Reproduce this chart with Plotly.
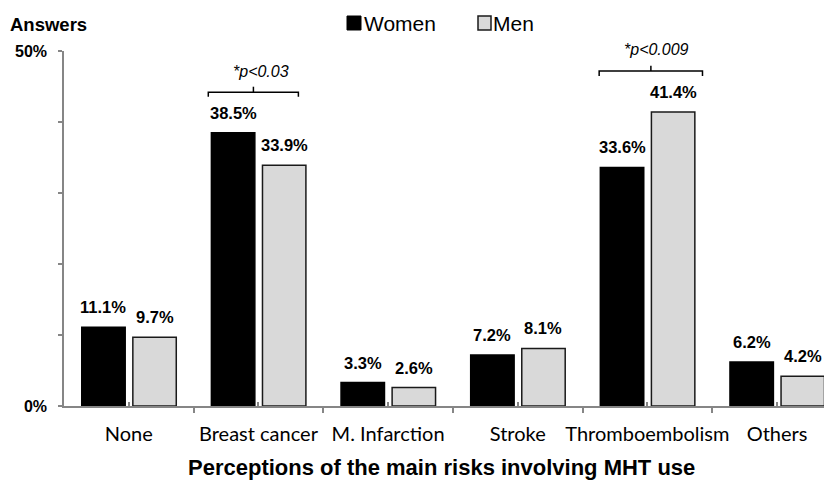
import plotly.graph_objects as go

categories = ["None", "Breast cancer", "M. Infarction", "Stroke", "Thromboembolism", "Others"]
women = [11.1, 38.5, 3.3, 7.2, 33.6, 6.2]
men = [9.7, 33.9, 2.6, 8.1, 41.4, 4.2]
y_ticks = [0, 10, 20, 30, 40, 50]
y_ticktext = ["0%", "", "", "", "", "50%"]
sig_labels = ["*p<0.03", "*p<0.009"]

# page has an 8px body margin; figure is sized so the plot reaches the window edges
BODY = 8
W, H = 832 - BODY, 481 - BODY
ML, MR, MT, MB = 64 - BODY, 0, 51 - BODY, 75
PW, PH = W - ML - MR, H - MT - MB

def px_x(p):  # page pixel -> paper x
    return (p - BODY - ML) / PW

def px_y(p):  # page pixel -> paper y
    return (H - MB - (p - BODY)) / PH

x = list(range(len(categories)))
BW = 0.335
OFF_W, OFF_M = -0.363, 0.031
XMAX = 5.424
YMAX = 50

fig = go.Figure()
fig.add_trace(go.Bar(x=x, y=women, name="Women", width=BW, offset=OFF_W,
                     marker=dict(color="#000000", line=dict(color="#000000", width=1.5)),
                     showlegend=False))
fig.add_trace(go.Bar(x=x, y=men, name="Men", width=BW, offset=OFF_M,
                     marker=dict(color="#d9d9d9", line=dict(color="#1a1a1a", width=1.5)),
                     showlegend=False))

annotations = []
for i, (w, m) in enumerate(zip(women, men)):
    for val, off in ((w, OFF_W), (m, OFF_M)):
        annotations.append(dict(x=i + off + BW / 2, y=val, xref="x", yref="y",
                                text=f"{val}%", showarrow=False, yanchor="middle", yshift=20,
                                font=dict(family="Arial", size=16.5, color="#000000", weight="bold")))

# significance brackets
brackets = [
    dict(x0=0.613, x1=1.308, xc=0.961, y=44.18, ylo=43.56, yhi=44.97, tx=1.02, ty=47.08, text=sig_labels[0]),
    dict(x0=3.628, x1=4.425, xc=4.027, y=47.18, ylo=46.48, yhi=47.93, tx=4.073, ty=50.24, text=sig_labels[1]),
]
shapes = []
for b in brackets:
    shapes.append(dict(type="path",
                       path=f"M {b['x0']},{b['ylo']} L {b['x0']},{b['y']} L {b['x1']},{b['y']} L {b['x1']},{b['ylo']}",
                       xref="x", yref="y", line=dict(color="#000000", width=1.5)))
    shapes.append(dict(type="line", x0=b["xc"], x1=b["xc"], y0=b["y"], y1=b["yhi"],
                       xref="x", yref="y", line=dict(color="#000000", width=1.5)))
    annotations.append(dict(x=(b["tx"] + 0.5) / (XMAX + 0.5), y=b["ty"] / YMAX,
                            xref="paper", yref="paper", text=b["text"], showarrow=False,
                            xanchor="center", yanchor="middle",
                            font=dict(family="Arial", size=16, color="#000000", style="italic")))

# legend (manual)
shapes.append(dict(type="rect", xref="paper", yref="paper", x0=px_x(347), x1=px_x(361),
                   y0=px_y(30), y1=px_y(16), fillcolor="#000000", line=dict(color="#000000", width=1)))
shapes.append(dict(type="rect", xref="paper", yref="paper", x0=px_x(478), x1=px_x(491),
                   y0=px_y(30), y1=px_y(16), fillcolor="#d9d9d9", line=dict(color="#1a1a1a", width=1.5)))
annotations.append(dict(x=px_x(362), y=px_y(23), xref="paper", yref="paper", text="Women",
                        showarrow=False, xanchor="left", yanchor="middle",
                        font=dict(family="Arial", size=21, color="#000000")))
annotations.append(dict(x=px_x(491), y=px_y(23), xref="paper", yref="paper", text="Men",
                        showarrow=False, xanchor="left", yanchor="middle",
                        font=dict(family="Arial", size=21, color="#000000")))

annotations.append(dict(x=px_x(8), y=px_y(24), xref="paper", yref="paper", text="Answers",
                        showarrow=False, xanchor="left", yanchor="middle",
                        font=dict(family="Arial", size=18.5, color="#000000", weight="bold")))
annotations.append(dict(x=px_x(441), y=px_y(481), xref="paper", yref="paper",
                        text="Perceptions of the main risks involving MHT use",
                        showarrow=False, xanchor="center", yanchor="bottom", borderpad=0,
                        font=dict(family="Arial", size=22, color="#000000", weight="bold")))

fig.update_layout(
    width=W, height=H,
    margin=dict(l=ML, r=MR, t=MT, b=MB, pad=0),
    plot_bgcolor="white", paper_bgcolor="white",
    barmode="overlay",
    shapes=shapes, annotations=annotations,
    xaxis=dict(range=[-0.5, XMAX], tickmode="array", tickvals=x,
               ticktext=categories, ticks="inside", ticklen=4, tickcolor="#868686", tickwidth=1.5,
               showline=True, linecolor="#868686", linewidth=1.5, showgrid=False, zeroline=False,
               tickfont=dict(family="Lato", size=20, color="#000000"), ticklabelstandoff=9,
               minor=dict(tickmode="array", tickvals=[i - 0.5 for i in x], ticks="outside",
                          ticklen=5, tickcolor="#868686", tickwidth=1.5, showgrid=False)),
    yaxis=dict(range=[0, YMAX], tickmode="array", tickvals=y_ticks, ticktext=y_ticktext,
               ticks="outside", ticklen=4, tickcolor="#868686", tickwidth=1.5,
               showline=True, linecolor="#868686", linewidth=1.5, showgrid=False, zeroline=False,
               tickfont=dict(family="Arial", size=16, color="#000000", weight="bold"),
               ticklabelstandoff=8),
)

fig.write_html("out.html")
